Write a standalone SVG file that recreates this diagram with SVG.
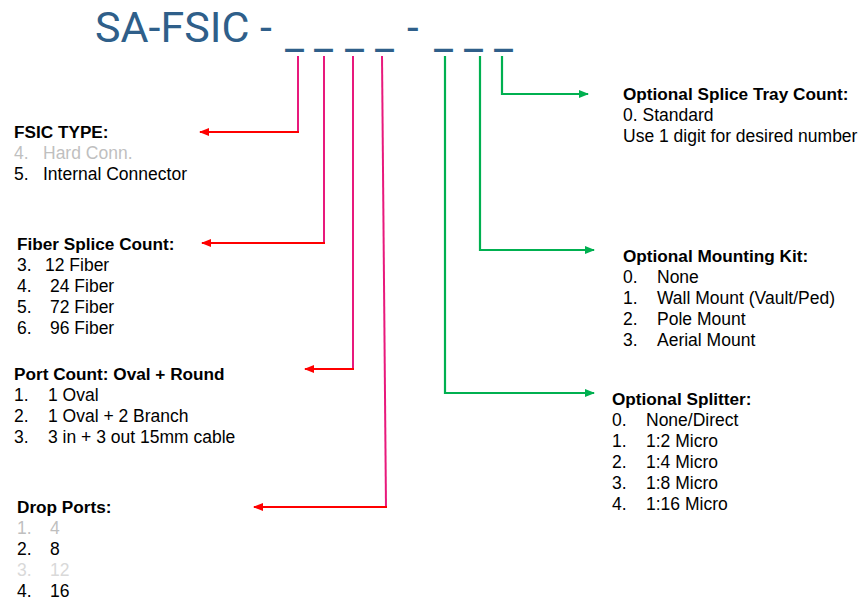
<svg xmlns="http://www.w3.org/2000/svg" width="859" height="600" viewBox="0 0 859 600">
<style>
.t{font-family:"Liberation Sans",Arial,sans-serif;font-size:17.5px;fill:#000}
.b{font-weight:bold;font-size:17.2px}
.g{fill:#BFBFBF}
.g2{fill:#D9D9D9}
.title{font-family:Roboto,"Open Sans",sans-serif;font-size:42px;fill:#2F5F8A}
.pk{fill:none;stroke:#E8197C;stroke-width:2}
.rd{fill:none;stroke:#FF0000;stroke-width:2}
.gr{fill:none;stroke:#00B050;stroke-width:2.2}
</style>
<defs>
<marker id="ar" markerUnits="userSpaceOnUse" markerWidth="10" markerHeight="10" viewBox="0 0 10 10" refX="9" refY="5" orient="auto"><path d="M0,1 L10,5 L0,9 z" fill="#FF0000"/></marker>
<marker id="ag" markerUnits="userSpaceOnUse" markerWidth="10" markerHeight="10" viewBox="0 0 10 10" refX="9" refY="5" orient="auto"><path d="M0,1 L10,5 L0,9 z" fill="#00B050"/></marker>
</defs>
<rect width="859" height="600" fill="#fff"/>
<g id="title">
<text class="title" x="95" y="42" textLength="177" lengthAdjust="spacingAndGlyphs">SA-FSIC -</text>
<text class="title" x="285" y="49">_</text>
<text class="title" x="314" y="49">_</text>
<text class="title" x="345" y="49">_</text>
<text class="title" x="375" y="49">_</text>
<text class="title" x="407" y="42">-</text>
<text class="title" x="434" y="49">_</text>
<text class="title" x="464" y="49">_</text>
<text class="title" x="494" y="49">_</text>
</g>
<g id="connectors">
<path class="pk" d="M298,56 V132"/><path class="rd" d="M299,132 H200" marker-end="url(#ar)"/>
<path class="pk" d="M324,56 V243"/><path class="rd" d="M325,243 H202" marker-end="url(#ar)"/>
<path class="pk" d="M353,56 V369"/><path class="rd" d="M354,369 H305" marker-end="url(#ar)"/>
<path class="pk" d="M382,56 L386,507"/><path class="rd" d="M387,507 H254" marker-end="url(#ar)"/>
<path class="gr" d="M502,56 V94 H588" marker-end="url(#ag)"/>
<path class="gr" d="M480,56 V250 H594" marker-end="url(#ag)"/>
<path class="gr" d="M445,56 V393 H594" marker-end="url(#ag)"/>
</g>
<g id="fsic-type">
<text class="t b" x="14" y="138">FSIC TYPE:</text>
<text class="t g" y="159"><tspan x="14">4.</tspan><tspan x="43">Hard Conn.</tspan></text>
<text class="t" y="180"><tspan x="14">5.</tspan><tspan x="43">Internal Connector</tspan></text>
</g>
<g id="fiber-splice-count">
<text class="t b" x="17" y="250">Fiber Splice Count:</text>
<text class="t" y="271"><tspan x="17">3.</tspan><tspan x="45">12 Fiber</tspan></text>
<text class="t" y="292"><tspan x="17">4.</tspan><tspan x="50">24 Fiber</tspan></text>
<text class="t" y="313"><tspan x="17">5.</tspan><tspan x="50">72 Fiber</tspan></text>
<text class="t" y="334"><tspan x="17">6.</tspan><tspan x="50">96 Fiber</tspan></text>
</g>
<g id="port-count">
<text class="t b" x="14" y="380">Port Count: Oval + Round</text>
<text class="t" y="401"><tspan x="14">1.</tspan><tspan x="48">1 Oval</tspan></text>
<text class="t" y="422"><tspan x="14">2.</tspan><tspan x="48">1 Oval + 2 Branch</tspan></text>
<text class="t" y="443"><tspan x="14">3.</tspan><tspan x="48">3 in + 3 out 15mm cable</tspan></text>
</g>
<g id="drop-ports">
<text class="t b" x="17" y="513">Drop Ports:</text>
<text class="t g" y="534"><tspan x="17">1.</tspan><tspan x="50">4</tspan></text>
<text class="t" y="555"><tspan x="17">2.</tspan><tspan x="50">8</tspan></text>
<text class="t g2" y="576"><tspan x="17">3.</tspan><tspan x="50">12</tspan></text>
<text class="t" y="597"><tspan x="17">4.</tspan><tspan x="50">16</tspan></text>
</g>
<g id="splice-tray">
<text class="t b" x="623" y="100">Optional Splice Tray Count:</text>
<text class="t" x="623" y="121">0. Standard</text>
<text class="t" x="623" y="142">Use 1 digit for desired number</text>
</g>
<g id="mounting-kit">
<text class="t b" x="623" y="262">Optional Mounting Kit:</text>
<text class="t" y="283"><tspan x="623">0.</tspan><tspan x="657">None</tspan></text>
<text class="t" y="304"><tspan x="623">1.</tspan><tspan x="657">Wall Mount (Vault/Ped)</tspan></text>
<text class="t" y="325"><tspan x="623">2.</tspan><tspan x="657">Pole Mount</tspan></text>
<text class="t" y="346"><tspan x="623">3.</tspan><tspan x="657">Aerial Mount</tspan></text>
</g>
<g id="splitter">
<text class="t b" x="612" y="405">Optional Splitter:</text>
<text class="t" y="426"><tspan x="612">0.</tspan><tspan x="646">None/Direct</tspan></text>
<text class="t" y="447"><tspan x="612">1.</tspan><tspan x="646">1:2 Micro</tspan></text>
<text class="t" y="468"><tspan x="612">2.</tspan><tspan x="646">1:4 Micro</tspan></text>
<text class="t" y="489"><tspan x="612">3.</tspan><tspan x="646">1:8 Micro</tspan></text>
<text class="t" y="510"><tspan x="612">4.</tspan><tspan x="646">1:16 Micro</tspan></text>
</g>
</svg>
